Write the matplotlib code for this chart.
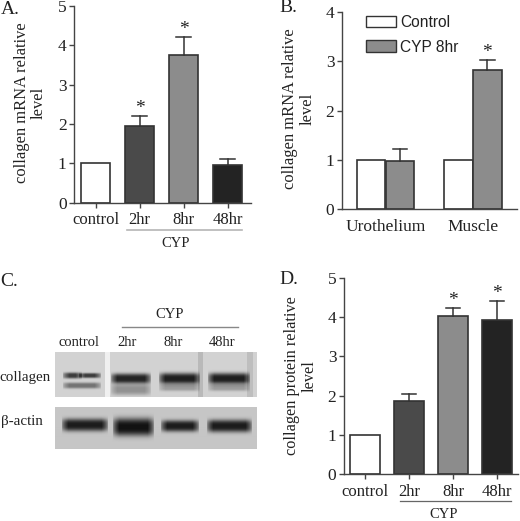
import numpy as np
import matplotlib
matplotlib.use('Agg')
import matplotlib.pyplot as plt
from matplotlib.lines import Line2D
from matplotlib.patches import Patch

plt.rcParams['font.family'] = 'Liberation Serif'

W, H = 520, 521

time_labels = ['control', '2hr', '8hr', '48hr']
time_colors = ['white', '#4a4a4a', '#8c8c8c', '#232323']

mrna_values = [1, 1.95, 3.75, 0.95]
mrna_tops = [None, 2.2, 4.2, 1.1]
mrna_stars = [False, True, True, False]

protein_values = [1, 1.87, 4.03, 3.93]
protein_tops = [None, 2.05, 4.22, 4.4]
protein_stars = [False, False, True, True]

tissue_labels = ['Urothelium', 'Muscle']
tissue_control = [1, 1]
tissue_cyp = [0.97, 2.83]
tissue_cyp_tops = [1.22, 3.02]

fig = plt.figure(figsize=(W / 100, H / 100), dpi=100)
edge = '#333333'


def px_axes(left, right, top, bottom):
    ax = fig.add_axes([left / W, 1 - bottom / H, (right - left) / W, (bottom - top) / H])
    ax.patch.set_alpha(0)
    for s in ['top', 'right']:
        ax.spines[s].set_visible(False)
    for s in ['left', 'bottom']:
        ax.spines[s].set_color('#444444')
        ax.spines[s].set_linewidth(1.0)
    ax.tick_params(axis='both', length=3.8, width=1.0, color='#444444', labelcolor='#222222')
    ax.tick_params(axis='y', labelsize=12.5, pad=1.5)
    ax.tick_params(axis='x', labelsize=12, pad=3)
    return ax


def txt(x, y, s, size=12, **kw):
    kw.setdefault('ha', 'center')
    kw.setdefault('va', 'center')
    kw.setdefault('color', '#222222')
    fig.text(x / W, 1 - y / H, s, fontsize=size, **kw)


def bar_panel(left, right, top, bottom, first, step, values, tops, stars, ymax):
    ax = px_axes(left, right, top, bottom)
    for i, v in enumerate(values):
        ax.bar(i, v, width=0.66, color=time_colors[i], edgecolor=edge, linewidth=1.2, clip_on=False)
        if tops[i] is not None:
            ax.plot([i, i], [v, tops[i]], color=edge, lw=1.1)
            ax.plot([i - 0.17, i + 0.17], [tops[i], tops[i]], color=edge, lw=1.1)
        if stars[i]:
            ax.text(i, tops[i] - 0.02, '*', ha='center', va='bottom', fontsize=14, color='#222222')
    ax.set_xlim((left - first) / step, (right - first) / step)
    ax.set_ylim(0, ymax)
    ax.set_yticks(range(ymax + 1))
    ax.set_xticks(range(len(values)))
    ax.set_xticklabels(time_labels)
    return ax


# A
bar_panel(74, 251, 6, 202.7, 95.5, 44, mrna_values, mrna_tops, mrna_stars, 5)
txt(10, 9, 'A.', 14)
txt(22, 103, 'collagen mRNA relative', 11.9, rotation=90)
txt(39, 103, 'level', 11.9, rotation=90)
fig.add_artist(Line2D([127 / W, 242 / W], [1 - 230 / H] * 2, color='#b5b5b5', lw=1.2))
txt(176, 243, 'CYP', 10.5)

# B
ax = px_axes(341.7, 517, 12.3, 209)
x = np.arange(len(tissue_labels))
ax.bar(x - 0.164, tissue_control, width=0.325, color='white', edgecolor=edge, linewidth=1.2)
ax.bar(x + 0.164, tissue_cyp, width=0.325, color='#8c8c8c', edgecolor=edge, linewidth=1.2)
for i in x:
    ax.plot([i + 0.164] * 2, [tissue_cyp[i], tissue_cyp_tops[i]], color=edge, lw=1.1)
    ax.plot([i + 0.08, i + 0.248], [tissue_cyp_tops[i]] * 2, color=edge, lw=1.1)
ax.text(1.164, tissue_cyp_tops[1] - 0.02, '*', ha='center', va='bottom', fontsize=14, color='#222222')
ax.set_xlim((341.7 - 385.5) / 87.5, (517 - 385.5) / 87.5)
ax.set_ylim(0, 4)
ax.set_yticks(range(5))
ax.set_xticks(x)
ax.set_xticklabels(tissue_labels, fontsize=12.5)
ax.tick_params(axis='x', length=0, pad=7)
ax.legend(handles=[Patch(facecolor='white', edgecolor=edge, label='Control'),
                   Patch(facecolor='#8c8c8c', edgecolor=edge, label='CYP 8hr')],
          loc='upper left', bbox_to_anchor=(0.139, 0.986), frameon=False, borderpad=0, borderaxespad=0,
          prop={'family': 'Liberation Sans', 'size': 11.2}, handlelength=1.93, handleheight=0.78,
          handletextpad=0.25, labelspacing=0.62, labelcolor='#222222')
txt(288, 8, 'B.', 14)
txt(290, 109, 'collagen mRNA relative', 11.9, rotation=90)
txt(307.7, 109, 'level', 11.9, rotation=90)

# C: blots
blot_y, blot_x = np.mgrid[0:46, 0:202]


def band(img, x0, x1, yc, h, depth, x_off, y_off):
    xx = blot_x[:img.shape[0], :img.shape[1]] + x_off
    yy = blot_y[:img.shape[0], :img.shape[1]] + y_off
    ex = np.sqrt(np.clip((xx - x0) / 7, 0, 1) * np.clip((x1 - xx) / 7, 0, 1))
    return img - depth * ex * np.exp(-np.abs((yy - yc) / (h / 2)) ** 3)


top_blot = np.full((45, 202), 210.0)
top_blot[:, 50:55] = 240
top_blot[:, 143:148] = 185
top_blot[:, 192:198] = 190
for b in [(62, 82, 375, 6, 150), (78, 101, 375, 5, 150), (62, 101, 385, 6, 95),
          (110, 151, 378, 10, 175), (158, 200, 378, 11, 180), (207, 250, 378, 11, 180),
          (110, 151, 389, 11, 65), (158, 200, 387, 7, 55), (207, 250, 387, 7, 55)]:
    top_blot = band(top_blot, *b, 55, 352)
ax1 = fig.add_axes([55 / W, 1 - 397 / H, 202 / W, 45 / H])
ax1.imshow(top_blot, cmap='gray', vmin=0, vmax=255, aspect='auto', interpolation='bilinear')
ax1.axis('off')

low_blot = np.full((42, 202), 198.0)
for b in [(61, 108, 425, 12, 170), (112, 154, 427, 17, 180), (160, 199, 426, 11, 170), (206, 252, 426, 12, 170)]:
    low_blot = band(low_blot, *b, 55, 407)
ax2 = fig.add_axes([55 / W, 1 - 449 / H, 202 / W, 42 / H])
ax2.imshow(low_blot, cmap='gray', vmin=0, vmax=255, aspect='auto', interpolation='bilinear')
ax2.axis('off')

txt(9, 281, 'C.', 14)
txt(170, 314, 'CYP', 10.5)
fig.add_artist(Line2D([122 / W, 238 / W], [1 - 327 / H] * 2, color='#888888', lw=1.0))
for xp, lab in zip([79, 127, 173, 222], time_labels):
    txt(xp, 343, lab, 10.5)
txt(25.5, 378, 'collagen', 10.8)
txt(21.5, 422, 'β-actin', 10.8)

# D
bar_panel(343.7, 518, 277.7, 474.3, 365, 44, protein_values, protein_tops, protein_stars, 5)
txt(288.5, 280, 'D.', 14)
txt(291.7, 376, 'collagen protein relative', 11.7, rotation=90)
txt(310, 376, 'level', 11.7, rotation=90)
fig.add_artist(Line2D([400 / W, 511 / W], [1 - 501 / H] * 2, color='#666666', lw=0.9))
txt(444, 515, 'CYP', 10.5)

fig.savefig('out.png', dpi=100)
